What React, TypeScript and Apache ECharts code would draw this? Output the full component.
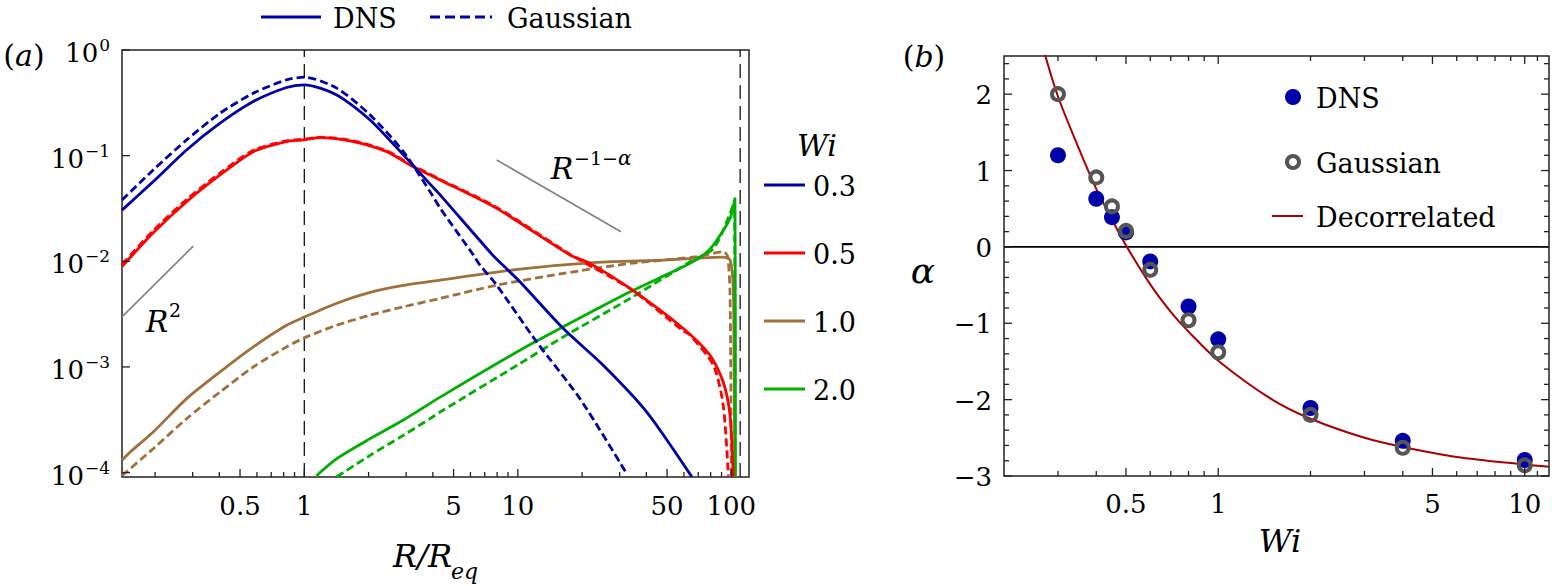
import React, { useEffect, useRef } from "react";
import * as echarts from "echarts";

const SERIF = "DejaVu Serif";

// ---------- Panel (a) data: P(R) vs R/Req ----------
const dns03X = [0.14, 0.196, 0.281, 0.403, 0.577, 0.826, 1, 1.419, 2.032, 2.911, 3.882, 4.325, 7.551, 8.551, 10.23, 16.33, 25.12, 40.18, 65.31];
const dns03Y = [0.0305, 0.0568, 0.1132, 0.2028, 0.3251, 0.4416, 0.4677, 0.3758, 0.2178, 0.1016, 0.0537, 0.0425, 0.0117, 0.0091, 0.0064, 0.00231, 0.001038, 0.000374, 0.0000912];
const gau03X = [0.14, 0.196, 0.281, 0.403, 0.577, 0.826, 1, 1.419, 2.032, 2.911, 3.882, 4.325, 6.194, 6.653, 7.962, 12.25, 19.54, 32.36];
const gau03Y = [0.038, 0.0731, 0.1409, 0.2523, 0.39, 0.5224, 0.5534, 0.4355, 0.2432, 0.1091, 0.0456, 0.0319, 0.01146, 0.0092, 0.00594, 0.001726, 0.000501, 0.0000977];

const dns05X = [0.14, 0.196, 0.281, 0.403, 0.577, 0.826, 1, 1.186, 1.698, 2.432, 3.126, 4.325, 7.962, 17.58, 21.78, 33.57, 59.57, 79.43, 91.62, 98.63, 102.1];
const dns05Y = [0.0089, 0.0186, 0.03664, 0.06561, 0.1091, 0.1358, 0.1409, 0.1483, 0.1358, 0.1091, 0.0817, 0.0589, 0.0317, 0.01146, 0.00955, 0.00553, 0.00231, 0.00129, 0.000721, 0.000348, 0.0000912];
const gau05X = [0.14, 0.196, 0.281, 0.403, 0.577, 0.826, 1, 1.186, 1.698, 2.432, 3.126, 4.325, 7.962, 17.58, 33.57, 59.57, 64.12, 82.41, 91.62, 96.83];
const gau05Y = [0.00933, 0.0195, 0.03846, 0.0684, 0.1122, 0.138, 0.1429, 0.1496, 0.138, 0.1109, 0.0832, 0.0596, 0.0324, 0.01161, 0.0055, 0.00219, 0.002, 0.001038, 0.000434, 0.0000933];

const dns10X = [0.14, 0.153, 0.196, 0.281, 0.403, 0.577, 0.826, 1, 1.419, 2.032, 2.911, 4.325, 10.23, 23.44, 47.97, 91.62, 98.63, 102.1, 103.0, 104.0];
const dns10Y = [0.0001306, 0.0001563, 0.0002421, 0.000501, 0.000897, 0.001549, 0.002483, 0.00296, 0.00401, 0.00508, 0.00592, 0.00664, 0.00843, 0.00977, 0.01026, 0.01096, 0.01035, 0.00553, 0.001, 0.0000912];
const gau10X = [0.14, 0.196, 0.281, 0.403, 0.577, 0.826, 1, 1.419, 2.032, 2.911, 4.325, 7.962, 16.33, 33.57, 68.87, 91.62, 96.0, 98.6, 100];
const gau10Y = [0.0000933, 0.0001683, 0.0003236, 0.000579, 0.001, 0.001549, 0.001884, 0.002483, 0.00309, 0.00371, 0.00445, 0.00594, 0.00767, 0.00955, 0.01104, 0.0123, 0.01122, 0.005, 0.0000912];

const dns20X = [1.14, 1.419, 2.032, 2.911, 3.882, 4.325, 10.23, 16.33, 33.57, 61.8, 73.96, 82.41, 98.63, 104.0, 104.5];
const dns20Y = [0.0000933, 0.0001355, 0.0002094, 0.000315, 0.000452, 0.000518, 0.001439, 0.002399, 0.00514, 0.0092, 0.01146, 0.01426, 0.02547, 0.03945, 0.0000912];
const gau20X = [1.419, 2.032, 2.911, 3.882, 4.325, 10.23, 16.33, 33.57, 64.12, 82.41, 98.63, 103.5, 104.0];
const gau20Y = [0.0000912, 0.0001455, 0.0002254, 0.0003243, 0.0003741, 0.001076, 0.001923, 0.00445, 0.00989, 0.01318, 0.02818, 0.038, 0.0000912];

const slope2X = [0.14, 0.302];
const slope2Y = [0.002979, 0.01393];
const slopeAX = [7.962, 30.41];
const slopeAY = [0.091, 0.01905];

const vLineX = [1, 110];

const wiLabels = ["0.3", "0.5", "1.0", "2.0"];

// axis ticks (a)
const aXMajor = [0.5, 1, 5, 10, 50, 100];
const aXMajorLabels = ["0.5", "1", "5", "10", "50", "100"];
const aXMinor = [0.2, 0.3, 0.4, 0.6, 0.7, 0.8, 0.9, 2, 3, 4, 6, 7, 8, 9, 20, 30, 40, 60, 70, 80, 90];
const aYMajor = [0.0001, 0.001, 0.01, 0.1, 1];
const aYExp = ["\u22124", "\u22123", "\u22122", "\u22121", "0"];

// ---------- Panel (b) data: alpha vs Wi ----------
const wiPts = [0.3, 0.4, 0.45, 0.5, 0.6, 0.8, 1, 2, 4, 10];
const alphaDNS = [1.2, 0.63, 0.39, 0.19, -0.19, -0.78, -1.21, -2.11, -2.54, -2.79];
const alphaGau = [2.0, 0.91, 0.53, 0.21, -0.3, -0.96, -1.38, -2.2, -2.63, -2.86];
const decorX = [0.272, 0.3, 0.35, 0.4, 0.45, 0.5, 0.6, 0.7, 0.8, 1, 1.5, 2, 3, 4, 6, 10, 12];
const decorY = [2.52, 1.97, 1.3, 0.76, 0.36, 0.02, -0.49, -0.85, -1.11, -1.49, -2.0, -2.25, -2.5, -2.62, -2.75, -2.85, -2.88];

const bXMajor = [0.5, 1, 5, 10];
const bXMajorLabels = ["0.5", "1", "5", "10"];
const bXMinor = [0.3, 0.4, 0.6, 0.7, 0.8, 0.9, 2, 3, 4, 6, 7, 8, 9, 11];
const bYMajor = [-3, -2, -1, 0, 1, 2];
const bYMajorLabels = ["\u22123", "\u22122", "\u22121", "0", "1", "2"];
const bYMinor = [-2.8, -2.6, -2.4, -2.2, -1.8, -1.6, -1.4, -1.2, -0.8, -0.6, -0.4, -0.2, 0.2, 0.4, 0.6, 0.8, 1.2, 1.4, 1.6, 1.8, 2.2, 2.4];

// ---------- styles ----------
const A_XMIN = 0.14, A_XMAX = 121, A_YMIN = 9.08e-5, A_YMAX = 1;
const B_XMIN = 0.2, B_XMAX = 12, B_YMIN = -3, B_YMAX = 2.5;
const BLUE = "#0000a8";
const RED = "#ff0000";
const BROWN = "#a0703c";
const GREEN = "#00b000";
const DECOR = "#aa0000";
const GRAYRING = "#555555";
const wiColors = [BLUE, RED, BROWN, GREEN];
const DASH = [8, 4];
const AXC = "#222";
const TICKFS = 26;
const SUPFS = 17;
const LEGFS = 27;

const zip = (xs: number[], ys: number[]) => xs.map((x, i) => [x, ys[i]]);

type TickItem = {
  p: number[];
  dx: number;
  dy: number;
  len: number;
  label?: string;
  sup?: string;
  lx?: number;
  ly?: number;
};

function tickSeries(gi: number, items: TickItem[]) {
  return {
    type: "custom",
    xAxisIndex: gi,
    yAxisIndex: gi,
    clip: false,
    silent: true,
    z: 20,
    data: items.map((it) => it.p),
    renderItem: (params: any, api: any) => {
      const it = items[params.dataIndex];
      const c = api.coord(it.p);
      const children: any[] = [
        {
          type: "line",
          shape: { x1: c[0], y1: c[1], x2: c[0] + it.dx * it.len, y2: c[1] + it.dy * it.len },
          style: { stroke: AXC, lineWidth: 1.3 },
        },
      ];
      if (it.label !== undefined && it.sup === undefined) {
        children.push({
          type: "text",
          x: c[0] + (it.lx || 0),
          y: c[1] + (it.ly || 0),
          style: { text: it.label, fontSize: TICKFS, fontFamily: SERIF, fill: "#000", align: it.lx && it.lx < 0 ? "right" : "center", verticalAlign: "middle" },
        });
      }
      if (it.sup !== undefined) {
        const supW = (it.sup.length === 1 ? 0.636 : 1.474) * SUPFS;
        children.push({
          type: "text",
          x: c[0] - 12,
          y: c[1] - 5,
          style: { text: it.sup, fontSize: SUPFS, fontFamily: SERIF, fill: "#000", align: "right", verticalAlign: "middle" },
        });
        children.push({
          type: "text",
          x: c[0] - 13 - supW,
          y: c[1] + 3,
          style: { text: "10", fontSize: TICKFS, fontFamily: SERIF, fill: "#000", align: "right", verticalAlign: "middle" },
        });
      }
      return { type: "group", children };
    },
  };
}

function buildOption() {
  const aTicks: TickItem[] = [];
  aXMinor.forEach((v) => aTicks.push({ p: [v, A_YMIN], dx: 0, dy: -1, len: 5 }));
  aXMajor.forEach((v, i) => aTicks.push({ p: [v, A_YMIN], dx: 0, dy: -1, len: 8, label: aXMajorLabels[i], lx: 0, ly: 29 }));
  aYMajor.forEach((v, i) => aTicks.push({ p: [A_XMIN, v], dx: 1, dy: 0, len: 8, sup: aYExp[i] }));

  const bTicks: TickItem[] = [];
  bXMinor.forEach((v) => {
    bTicks.push({ p: [v, B_YMIN], dx: 0, dy: -1, len: 5 });
    bTicks.push({ p: [v, B_YMAX], dx: 0, dy: 1, len: 5 });
  });
  bXMajor.forEach((v, i) => {
    bTicks.push({ p: [v, B_YMIN], dx: 0, dy: -1, len: 8, label: bXMajorLabels[i], lx: 0, ly: 28 });
    bTicks.push({ p: [v, B_YMAX], dx: 0, dy: 1, len: 8 });
  });
  bYMinor.forEach((v) => {
    bTicks.push({ p: [B_XMIN, v], dx: 1, dy: 0, len: 5 });
    bTicks.push({ p: [B_XMAX, v], dx: -1, dy: 0, len: 5 });
  });
  bYMajor.forEach((v, i) => {
    bTicks.push({ p: [B_XMIN, v], dx: 1, dy: 0, len: 8, label: bYMajorLabels[i], lx: -12, ly: 1 });
    bTicks.push({ p: [B_XMAX, v], dx: -1, dy: 0, len: 8 });
  });

  const curve = (name: string, xs: number[], ys: number[], color: string, dashed: boolean) => ({
    name,
    type: "line",
    xAxisIndex: 0,
    yAxisIndex: 0,
    data: zip(xs, ys),
    symbol: "none",
    showSymbol: false,
    smooth: 0.25,
    clip: true,
    silent: true,
    lineStyle: { color, width: 2.8, type: dashed ? DASH : "solid" },
    z: 5,
  });

  const txt = (x: number, y: number, text: string, size: number, opts: any = {}) => ({
    type: "text",
    x,
    y,
    z: 50,
    style: {
      text,
      fontSize: size,
      fontFamily: SERIF,
      fill: "#000",
      align: opts.align || "left",
      verticalAlign: "middle",
      fontStyle: opts.italic ? "italic" : "normal",
      rich: opts.rich,
    },
  });

  const parenRich = {
    r: { fontSize: 30, fontFamily: SERIF },
    i: { fontSize: 30, fontFamily: SERIF, fontStyle: "italic" },
  };

  const graphic: any[] = [
    // top legend
    { type: "line", shape: { x1: 261, y1: 17, x2: 321, y2: 17 }, style: { stroke: BLUE, lineWidth: 3 } },
    txt(333, 18, "DNS", LEGFS),
    { type: "line", shape: { x1: 430, y1: 17, x2: 492, y2: 17 }, style: { stroke: BLUE, lineWidth: 3, lineDash: [10, 5] } },
    txt(507, 18, "Gaussian", LEGFS),
    // panel labels
    txt(24, 55, "{r|(}{i|a}{r|)}", 30, { align: "center", rich: parenRich }),
    txt(924, 56, "{r|(}{i|b}{r|)}", 30, { align: "center", rich: parenRich }),
    // axis titles
    txt(452, 556, "R/R", 32, { align: "right", italic: true }),
    txt(451, 571, "eq", 22, { align: "left", italic: true }),
    txt(1280, 541, "Wi", 32, { align: "center", italic: true }),
    txt(923, 270, "\u03b1", 36, { align: "center", italic: true }),
    // slope labels
    txt(157, 321, "R", 30, { align: "center", italic: true }),
    txt(169, 310, "2", 19),
    txt(562, 168, "R", 30, { align: "center", italic: true }),
    txt(574, 158, "{u|\u22121\u2212}{i|\u03b1}", 19, { rich: { u: { fontSize: 19, fontFamily: SERIF }, i: { fontSize: 20, fontFamily: SERIF, fontStyle: "italic" } } }),
    // Wi legend title
    txt(817, 145, "Wi", 30, { align: "center", italic: true }),
    // panel b legend
    { type: "circle", shape: { cx: 1293, cy: 97, r: 8 }, style: { fill: BLUE } },
    txt(1316, 98, "DNS", LEGFS),
    { type: "circle", shape: { cx: 1293, cy: 162, r: 6 }, style: { fill: "none", stroke: GRAYRING, lineWidth: 4 } },
    txt(1316, 163, "Gaussian", LEGFS),
    { type: "line", shape: { x1: 1272, y1: 216, x2: 1303, y2: 216 }, style: { stroke: DECOR, lineWidth: 2 } },
    txt(1316, 217, "Decorrelated", LEGFS),
  ];
  const wiY = [185, 253, 321, 389];
  wiLabels.forEach((lab, i) => {
    graphic.push({ type: "line", shape: { x1: 764, y1: wiY[i], x2: 805, y2: wiY[i] }, style: { stroke: wiColors[i], lineWidth: 3 } });
    graphic.push(txt(813, wiY[i] + 1, lab, LEGFS));
  });

  const hidden = {
    axisLine: { show: false },
    axisTick: { show: false },
    axisLabel: { show: false },
    splitLine: { show: false },
    minorTick: { show: false },
  };

  return {
    animation: false,
    backgroundColor: "#ffffff",
    textStyle: { fontFamily: SERIF },
    grid: [
      { left: 122, top: 50, width: 627, height: 427, show: true, borderColor: AXC, borderWidth: 1.5, backgroundColor: "transparent" },
      { left: 1004, top: 56, width: 545, height: 420, show: true, borderColor: AXC, borderWidth: 1.5, backgroundColor: "transparent" },
    ],
    xAxis: [
      { gridIndex: 0, type: "log", logBase: 10, min: A_XMIN, max: A_XMAX, ...hidden },
      { gridIndex: 1, type: "log", logBase: 10, min: B_XMIN, max: B_XMAX, ...hidden },
    ],
    yAxis: [
      { gridIndex: 0, type: "log", logBase: 10, min: A_YMIN, max: A_YMAX, ...hidden },
      { gridIndex: 1, type: "value", min: B_YMIN, max: B_YMAX, ...hidden },
    ],
    graphic,
    series: [
      ...vLineX.map((x) => ({
        type: "line",
        xAxisIndex: 0,
        yAxisIndex: 0,
        data: [[x, A_YMIN], [x, A_YMAX]],
        symbol: "none",
        silent: true,
        lineStyle: { color: "#111", width: 1.3, type: [14, 7] },
        z: 3,
      })),
      {
        type: "line", xAxisIndex: 0, yAxisIndex: 0, data: zip(slope2X, slope2Y), symbol: "none", silent: true,
        lineStyle: { color: "#808080", width: 1.6 }, z: 4,
      },
      {
        type: "line", xAxisIndex: 0, yAxisIndex: 0, data: zip(slopeAX, slopeAY), symbol: "none", silent: true,
        lineStyle: { color: "#808080", width: 1.6 }, z: 4,
      },
      curve("DNS 1.0", dns10X, dns10Y, BROWN, false),
      curve("Gauss 1.0", gau10X, gau10Y, BROWN, true),
      curve("DNS 2.0", dns20X, dns20Y, GREEN, false),
      curve("Gauss 2.0", gau20X, gau20Y, GREEN, true),
      curve("DNS 0.5", dns05X, dns05Y, RED, false),
      curve("Gauss 0.5", gau05X, gau05Y, RED, true),
      curve("DNS 0.3", dns03X, dns03Y, BLUE, false),
      curve("Gauss 0.3", gau03X, gau03Y, BLUE, true),
      tickSeries(0, aTicks),
      {
        type: "line", xAxisIndex: 1, yAxisIndex: 1, data: [[B_XMIN, 0], [B_XMAX, 0]], symbol: "none", silent: true,
        lineStyle: { color: "#000", width: 1.6 }, z: 3,
      },
      {
        type: "line", xAxisIndex: 1, yAxisIndex: 1, data: zip(decorX, decorY), symbol: "none", silent: true,
        smooth: 0.3, clip: true,
        lineStyle: { color: DECOR, width: 2 }, z: 4,
      },
      {
        type: "scatter", xAxisIndex: 1, yAxisIndex: 1, data: zip(wiPts, alphaDNS), symbol: "circle", symbolSize: 16,
        itemStyle: { color: BLUE, opacity: 1 }, silent: true, z: 6,
      },
      {
        type: "scatter", xAxisIndex: 1, yAxisIndex: 1, data: zip(wiPts, alphaGau), symbol: "circle", symbolSize: 12,
        itemStyle: { color: "rgba(0,0,0,0)", borderColor: GRAYRING, borderWidth: 4, opacity: 1 }, silent: true, z: 7,
      },
      tickSeries(1, bTicks),
    ],
  };
}

export default function App() {
  const ref = useRef<HTMLDivElement>(null);
  useEffect(() => {
    document.body.style.margin = "0";
    if (!ref.current) return;
    const chart = echarts.init(ref.current, null, { renderer: "svg" });
    chart.setOption(buildOption() as any);
    return () => chart.dispose();
  }, []);
  return <div ref={ref} style={{ width: 1552, height: 586, background: "#fff" }} />;
}
